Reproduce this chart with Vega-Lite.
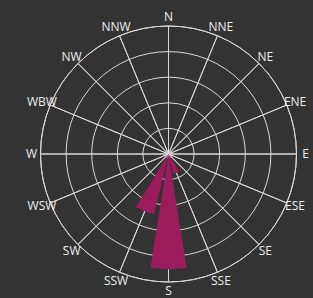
{
  "$schema": "https://vega.github.io/schema/vega-lite/v6.json",
  "width": 289,
  "height": 288,
  "autosize": {"type": "none"},
  "padding": {"left": 24, "top": 10, "right": 0, "bottom": 0},
  "background": "#333333",
  "config": {"view": {"stroke": null}},
  "datasets": {
    "rings": [{"r": 1}, {"r": 2}, {"r": 3}, {"r": 4}, {"r": 5}],
    "dirs": [
      {"dir": "N", "i": 0, "value": 0},
      {"dir": "NNE", "i": 1, "value": 0},
      {"dir": "NE", "i": 2, "value": 0},
      {"dir": "ENE", "i": 3, "value": 0},
      {"dir": "E", "i": 4, "value": 0},
      {"dir": "ESE", "i": 5, "value": 0},
      {"dir": "SE", "i": 6, "value": 0},
      {"dir": "SSE", "i": 7, "value": 0.8},
      {"dir": "S", "i": 8, "value": 4.5},
      {"dir": "SSW", "i": 9, "value": 2.43},
      {"dir": "SW", "i": 10, "value": 0},
      {"dir": "WSW", "i": 11, "value": 0},
      {"dir": "W", "i": 12, "value": 0},
      {"dir": "WBW", "i": 13, "value": 0},
      {"dir": "NW", "i": 14, "value": 0},
      {"dir": "NNW", "i": 15, "value": 0}
    ]
  },
  "resolve": {"scale": {"theta": "independent"}},
  "layer": [
    {
      "data": {"name": "rings"},
      "mark": {"type": "arc", "theta": 0, "theta2": 6.2832, "filled": false, "stroke": "#d8d8d8", "strokeWidth": 1},
      "encoding": {
        "radius": {"field": "r", "type": "quantitative", "stack": null, "scale": {"type": "linear", "domain": [0, 5], "range": [0, 128], "zero": true}}
      }
    },
    {
      "data": {"name": "dirs"},
      "transform": [
        {"joinaggregate": [{"op": "count", "as": "n"}], "groupby": ["dir"]},
        {"stack": "n", "groupby": [], "sort": [{"field": "i", "order": "ascending"}], "as": ["t0", "t1"]}
      ],
      "mark": {"type": "arc", "radius": 128, "filled": false, "stroke": "#d8d8d8", "strokeWidth": 1},
      "encoding": {
        "theta": {"field": "t0", "type": "quantitative", "scale": {"domain": [0, 16], "range": [0, 6.2832], "zero": false}},
        "theta2": {"field": "t1"}
      }
    },
    {
      "data": {"name": "dirs"},
      "transform": [
        {"joinaggregate": [{"op": "count", "as": "n"}], "groupby": ["dir"]},
        {"stack": "n", "groupby": [], "sort": [{"field": "i", "order": "ascending"}], "as": ["t0", "t1"]}
      ],
      "mark": {"type": "arc", "padAngle": 0.0785, "fill": "#9a1c5a", "strokeWidth": 0},
      "encoding": {
        "theta": {"field": "t0", "type": "quantitative", "scale": {"domain": [0, 16], "range": [-0.19635, 6.08684], "zero": false}},
        "theta2": {"field": "t1"},
        "radius": {"field": "value", "type": "quantitative", "stack": null, "scale": {"type": "linear", "domain": [0, 5], "range": [0, 128], "zero": true}}
      }
    },
    {
      "data": {"name": "dirs"},
      "transform": [
        {"joinaggregate": [{"op": "count", "as": "n"}], "groupby": ["dir"]},
        {"stack": "n", "groupby": [], "sort": [{"field": "i", "order": "ascending"}], "as": ["t0", "t1"]}
      ],
      "mark": {"type": "text", "radius": 137, "font": "Open Sans", "fontSize": 12, "fill": "#eeeeee", "align": "center", "baseline": "middle"},
      "encoding": {
        "theta": {"field": "t0", "type": "quantitative", "scale": {"domain": [0, 16], "range": [0, 6.2832], "zero": false}},
        "text": {"field": "dir", "type": "nominal"}
      }
    }
  ]
}
